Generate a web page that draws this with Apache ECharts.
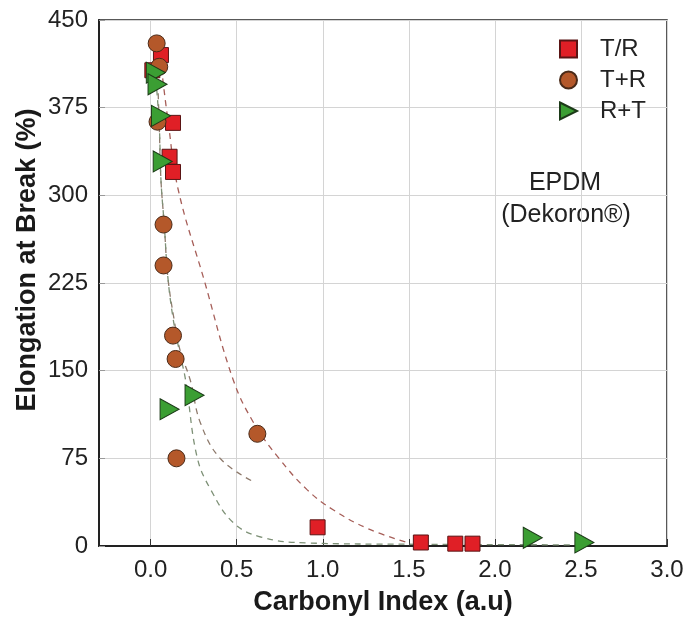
<!DOCTYPE html>
<html>
<head>
<meta charset="utf-8">
<script src="https://cdn.jsdelivr.net/npm/echarts@6/dist/echarts.min.js"></script>
<style>
html,body{margin:0;padding:0;background:#fff;}
#chart{width:687px;height:621px;}
</style>
</head>
<body>
<div id="chart"></div>
<script>
// ---- data ----
const xTicks = [0, 0.5, 1.0, 1.5, 2.0, 2.5, 3.0];
const yTicks = [0, 75, 150, 225, 300, 375, 450];

const seriesNames = ['T/R', 'T+R', 'R+T'];

const dataTR = [[0.01,407],[0.06,420],[0.13,362],[0.11,333],[0.13,320],[0.97,16],[1.57,3],[1.77,2],[1.87,2]];
const dataTpR = [[0.035,430],[0.05,410],[0.04,363],[0.075,275],[0.075,240],[0.13,180],[0.145,160],[0.15,75],[0.62,96]];
const dataRpT = [[0.03,405],[0.04,395],[0.06,368],[0.07,329],[0.11,117],[0.255,129],[2.22,7],[2.52,3]];

// dashed fit curves
const fitTR = [[0.07,400],[0.1,365],[0.16,305],[0.31,228],[0.48,142],[0.60,105],[0.74,76],[0.91,48],[1.06,31],[1.26,15],[1.49,3]];
const fitTpR = [[0.035,425],[0.05,360],[0.06,313],[0.08,273],[0.10,230],[0.135,195],[0.17,168],[0.23,142],[0.29,105],[0.41,74],[0.61,54]];
const fitRpT = [[0.03,400],[0.05,360],[0.06,313],[0.08,273],[0.10,230],[0.13,195],[0.165,168],[0.203,142],[0.27,76],[0.35,48],[0.48,20],[0.64,7.7],[0.91,2.6],[1.5,1.5],[2.5,1]];

const FONT = '"Liberation Sans", Arial, sans-serif';
const triPath = 'path://M0,0 L10,5 L0,10 Z';

const chart = echarts.init(document.getElementById('chart'), null, {renderer: 'canvas'});

function fitSeries(data, color) {
  return {
    type: 'line', data: data, smooth: 0.4, showSymbol: false, silent: true, z: 1,
    lineStyle: {color: color, width: 1.3, type: [6, 5]}
  };
}

chart.setOption({
  animation: false,
  backgroundColor: '#fff',
  grid: {left: 99, right: 20, top: 20, bottom: 75, show: true, borderColor: '#222', borderWidth: 1.5, backgroundColor: 'transparent'},
  xAxis: {
    type: 'value', min: -0.3, max: 3.0, interval: 0.1,
    name: 'Carbonyl Index (a.u)', nameLocation: 'middle', nameGap: 43,
    nameTextStyle: {fontFamily: FONT, fontSize: 27, fontWeight: 'bold', color: '#1a1a1a'},
    axisLine: {onZero: false, lineStyle: {color: '#222', width: 2}},
    axisTick: {inside: true, length: 7, customValues: xTicks, lineStyle: {color: '#333', width: 1}},
    axisLabel: {customValues: xTicks, margin: 12, fontFamily: FONT, fontSize: 24, color: '#222',
      formatter: v => v.toFixed(1)},
    splitLine: {show: true, lineStyle: {color: '#d4d4d4', width: 1}}
  },
  yAxis: {
    type: 'value', min: 0, max: 450, interval: 75,
    axisLine: {show: true, onZero: false, lineStyle: {color: '#222', width: 2}},
    axisTick: {show: true, inside: true, length: 6, lineStyle: {color: '#999', width: 1}},
    axisLabel: {margin: 11, fontFamily: FONT, fontSize: 24, color: '#222'},
    splitLine: {show: true, lineStyle: {color: '#d4d4d4', width: 1}}
  },
  legend: {
    orient: 'vertical', left: 554, top: 32, itemWidth: 17, itemHeight: 17, itemGap: 7,
    data: seriesNames,
    textStyle: {fontFamily: FONT, fontSize: 24, color: '#222', padding: [0, 0, 0, 18]}
  },
  graphic: [
    {type: 'text', x: 28, y: 260, rotation: Math.PI / 2,
      style: {text: 'Elongation at Break (%)', fontFamily: FONT, fontSize: 27, fontWeight: 'bold', fill: '#1a1a1a', textAlign: 'center', textVerticalAlign: 'middle'}},
    {type: 'text', style: {text: 'EPDM', x: 565, y: 183, fontFamily: FONT, fontSize: 25, fill: '#222', textAlign: 'center', textVerticalAlign: 'middle'}},
    {type: 'text', style: {text: '(Dekoron®)', x: 566, y: 215, fontFamily: FONT, fontSize: 25, fill: '#222', textAlign: 'center', textVerticalAlign: 'middle'}}
  ],
  series: [
    fitSeries(fitTR, '#a65e58'),
    fitSeries(fitTpR, '#8e7a6c'),
    fitSeries(fitRpT, '#7e9177'),
    {name: 'T/R', type: 'scatter', data: dataTR, symbol: 'rect', symbolSize: 15, z: 3,
      itemStyle: {color: '#e01f26', borderColor: '#5a1414', borderWidth: 1, opacity: 1}},
    {name: 'T+R', type: 'scatter', data: dataTpR, symbol: 'circle', symbolSize: 17, z: 4,
      itemStyle: {color: '#b4582a', borderColor: '#4a2a18', borderWidth: 1, opacity: 1}},
    {name: 'R+T', type: 'scatter', data: dataRpT, symbol: triPath, symbolSize: [19, 21], z: 5,
      itemStyle: {color: '#3b9e33', borderColor: '#1c3a18', borderWidth: 1, opacity: 1}}
  ]
});
</script>
</body>
</html>
